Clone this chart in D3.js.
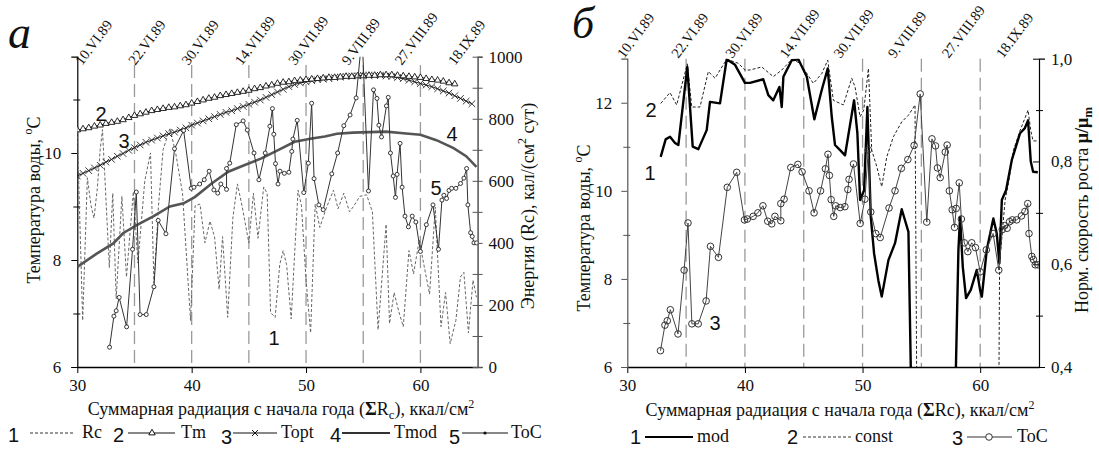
<!DOCTYPE html>
<html><head><meta charset="utf-8">
<script src="https://cdn.jsdelivr.net/npm/d3@7"></script>
<style>body{margin:0;background:#fff}svg{display:block}</style>
</head><body><svg id="c" width="1099" height="450"></svg>
<script>
// ---------------- DATA ----------------
const xTicks = [30, 40, 50, 60];
const gridX = [35, 40, 45, 50, 55, 60];
const dateLabels = ["10.VI.89","22.VI.89","30.VI.89","14.VII.89","30.VII.89","9.VIII.89","27.VIII.89","18.IX.89"];
const tempTicksLeft = [6, 7, 8, 9, 10, 11];
const tempTicksRight = [6, 7, 8, 9, 10, 11, 12];
const energyTicks = [0,100,200,300,400,500,600,700,800,900,1000];
const muTicks = [0.4,0.5,0.6,0.7,0.8,0.9,1.0];

// water temperature ToC (both panels)
const tocX = [32.82,33.2,33.4,33.66,34.31,34.83,35.16,35.49,36.03,36.7,37.07,37.75,38.5,39.3,39.96,40.2,40.7,41.1,41.53,41.94,42.28,42.55,43.05,43.05,43.33,43.9,44.5,44.86,45.45,45.88,46.43,46.84,47.06,47.18,47.33,47.55,47.72,48.1,48.5,48.75,48.85,49.23,49.8,50.2,50.49,50.7,51.12,51.5,52.25,52.76,53.3,53.85,54.38,54.9,55.46,55.9,56.2,56.37,56.6,57.03,57.19,57.38,57.62,57.82,57.96,58.22,58.4,58.65,58.95,59.28,59.6,60.0,60.52,61.1,61.58,61.88,62.05,62.29,62.5,62.73,63.1,63.51,63.8,64.04,64.15,64.39,64.53,64.68,64.91];
const tocT = [6.37,6.95,7.05,7.3,6.75,8.2,9.27,6.98,6.98,7.5,8.74,8.49,10.08,10.42,9.34,9.36,9.42,9.5,9.66,9.31,9.25,9.42,9.32,9.71,9.81,10.53,10.6,10.43,10.0,9.5,10.0,10.5,10.83,10.35,9.8,9.42,9.66,9.62,9.64,10.03,10.26,10.61,9.26,9.81,10.93,9.52,9.03,8.94,9.61,10.0,10.51,10.71,11.03,12.2,9.29,11.18,11.02,10.52,10.3,10.88,11.04,10.0,9.57,9.17,9.6,10.18,9.36,8.82,8.62,8.82,8.71,8.16,8.66,9.03,8.2,9.12,9.21,9.15,9.3,9.34,9.34,9.43,9.53,9.71,9.03,8.51,8.44,8.32,8.32];

// daily radiation Rc, кал/(см2 сут)
const rcX = [30.0,30.47,30.88,31.2,31.46,31.75,32.0,32.2,32.4,32.8,33.1,33.4,33.9,34.3,34.9,35.3,35.9,36.4,36.7,37.1,37.5,38.1,38.6,39.2,39.9,40.3,40.73,41.16,41.6,42.0,42.4,42.7,43.15,43.6,44.0,44.4,45.0,45.4,45.8,46.3,46.6,46.9,47.3,47.7,48.0,48.3,48.7,49.3,49.6,50.0,50.4,50.8,51.2,51.8,52.4,52.8,53.3,53.8,54.2,54.7,55.3,55.8,56.3,57.0,57.3,57.7,58.1,58.5,59.0,59.4,59.9,60.3,60.8,61.3,61.8,62.2,62.6,63.1,63.5,63.8,64.2,64.6,64.9];
const rcE = [760,150,610,520,480,575,700,765,620,320,560,220,550,290,565,335,600,690,270,520,700,770,690,560,150,520,525,400,470,420,250,420,160,480,590,520,400,560,415,580,560,175,160,330,375,330,155,570,520,280,110,525,450,515,570,510,560,500,520,550,555,500,120,460,140,240,180,130,375,300,410,330,235,515,130,240,75,150,290,305,110,280,225];

// Tm (triangles)
const tmX = [30,30.5,31,31.5,32,32.5,33,33.5,34,34.5,35,35.5,36,36.5,37,37.5,38,38.5,39,39.5,40,40.5,41,41.5,42,42.5,43,43.5,44,44.5,45,45.5,46,46.5,47,47.5,48,48.5,49,49.5,50,50.5,51,51.5,52,52.5,53,53.5,54,54.5,55,55.5,56,56.5,57,57.5,58,58.5,59,59.5,60,60.5,61,61.5,62,62.5,63];
const tmT = [10.43,10.45,10.47,10.5,10.52,10.55,10.57,10.59,10.62,10.66,10.7,10.73,10.76,10.79,10.81,10.83,10.85,10.86,10.88,10.9,10.93,10.96,10.99,11.02,11.04,11.07,11.09,11.11,11.13,11.15,11.17,11.2,11.22,11.25,11.27,11.3,11.32,11.33,11.35,11.36,11.37,11.38,11.39,11.4,11.41,11.41,11.42,11.43,11.43,11.44,11.44,11.45,11.45,11.46,11.46,11.46,11.45,11.44,11.43,11.42,11.41,11.39,11.37,11.36,11.34,11.31,11.29];

// Topt (x marks)
const toptX = [30,30.5,31,31.5,32,32.5,33,33.5,34,34.5,35,35.5,36,36.5,37,37.5,38,38.5,39,39.5,40,40.5,41,41.5,42,42.5,43,43.5,44,44.5,45,45.5,46,46.5,47,47.5,48,48.5,49,49.5,50,50.5,51,51.5,52,52.5,53,53.5,54,54.5,55,55.5,56,56.5,57,57.5,58,58.5,59,59.5,60,60.5,61,61.5,62,62.5,63,63.5,64,64.5];
const toptT = [9.57,9.62,9.67,9.72,9.77,9.83,9.88,9.94,9.99,10.05,10.1,10.15,10.2,10.24,10.28,10.32,10.36,10.39,10.43,10.47,10.52,10.56,10.6,10.64,10.68,10.72,10.76,10.79,10.83,10.87,10.91,10.95,10.99,11.04,11.09,11.14,11.19,11.24,11.28,11.31,11.33,11.35,11.37,11.38,11.39,11.41,11.42,11.43,11.44,11.44,11.45,11.45,11.45,11.45,11.44,11.43,11.41,11.39,11.36,11.33,11.3,11.27,11.24,11.2,11.16,11.12,11.07,11.02,10.97,10.92];

// Tmod (thick gray)
const tmodX = [30,31.7,33.15,34.0,35.2,36.6,38.1,39.3,40.3,41.75,43.2,44.7,46.1,47.6,49.0,50.5,51.65,52.7,54.1,57.0,58.5,60.0,61.4,62.9,64.0,64.9];
const tmodT = [7.87,8.12,8.31,8.5,8.65,8.81,9.0,9.06,9.18,9.43,9.65,9.78,9.9,10.06,10.21,10.27,10.31,10.36,10.38,10.4,10.37,10.34,10.24,10.09,9.94,9.74];

// right panel: normalised growth rate mu/mu_m
const modX = [32.84,33.26,33.63,34.06,34.34,35.1,35.56,36.04,36.75,37.03,37.88,38.45,39.16,40.0,40.43,41.56,41.99,42.41,42.93,43.13,43.27,43.98,44.54,45.26,45.9,46.53,47.04,47.38,47.66,48.09,48.51,49.28,49.56,49.79,50.13,50.41,50.7,50.98,51.34,51.63,52.2,52.76,53.33,53.9,54.25,57.75,58.15,58.29,58.52,58.8,59.2,59.71,59.99,60.14,60.56,61.12,61.41,61.63,61.84,62.2,62.69,63.39,63.8,64.07,64.3,64.5,64.9];
const modMu = [0.809,0.843,0.848,0.836,0.832,0.984,0.829,0.824,0.861,0.916,0.913,0.999,0.988,0.953,0.953,0.96,0.929,0.919,0.945,0.906,0.965,0.997,0.999,0.965,0.882,0.939,0.981,0.887,0.832,0.822,0.812,0.919,0.855,0.725,0.744,0.906,0.692,0.621,0.569,0.537,0.608,0.641,0.707,0.663,0.2,0.2,0.628,0.692,0.595,0.534,0.55,0.589,0.55,0.537,0.628,0.689,0.66,0.602,0.725,0.744,0.803,0.855,0.865,0.88,0.8,0.78,0.779];
const constX = [32.84,33.63,34.2,35.1,35.48,36.18,36.89,37.46,38.45,39.44,40.0,40.43,41.43,42.41,43.13,44.0,44.69,45.82,46.53,47.04,47.52,48.37,49.08,49.36,49.79,50.1,50.5,50.78,51.21,51.63,52.06,52.62,53.33,53.9,54.46,54.65,61.55,61.65,62.12,62.4,62.83,63.39,64.07,64.3,64.5,64.95];
const constMu = [0.913,0.934,0.91,0.99,0.906,0.906,0.975,0.962,0.999,0.991,0.978,0.978,0.984,0.965,0.978,0.999,0.991,0.952,0.971,0.997,0.919,0.91,0.962,0.945,0.887,0.9,0.981,0.822,0.79,0.751,0.809,0.848,0.877,0.89,0.91,0.2,0.2,0.602,0.725,0.757,0.822,0.86,0.9,0.86,0.84,0.84];

// ---------------- DRAW ----------------
const svg = d3.select("#c");
const SERIF = "Liberation Serif, Times New Roman, serif";
const SANS = "Liberation Sans, Arial, sans-serif";
const zip = (xs, ys) => xs.map((x, i) => [x, ys[i]]);

function txt(g, x, y, s, opt = {}) {
  return g.append("text").attr("x", x).attr("y", y).text(s)
    .attr("font-family", opt.ff || SERIF).attr("font-size", opt.fs || 18)
    .attr("text-anchor", opt.anchor || "start").attr("fill", opt.fill || "#111")
    .attr("font-style", opt.style || null);
}

// ---- LEFT PANEL ----
const xL = d3.scaleLinear().domain([30, 65]).range([77.3, 477.6]);
const yL = d3.scaleLinear().domain([6, 11.8]).range([367, 56.7]);
const yE = d3.scaleLinear().domain([0, 1000]).range([367, 56.7]);

// ---- RIGHT PANEL ----
const xR = d3.scaleLinear().domain([30, 65]).range([627.3, 1039]);
const yR = d3.scaleLinear().domain([6, 13]).range([367, 58.7]);
const yM = d3.scaleLinear().domain([0.4, 1.0]).range([367, 58.7]);

const defs = svg.append("defs");
defs.append("clipPath").attr("id", "clipL").append("rect")
  .attr("x", xL(30)).attr("y", yL(11.8)).attr("width", xL(65) - xL(30)).attr("height", yL(6) - yL(11.8));
defs.append("clipPath").attr("id", "clipR").append("rect")
  .attr("x", xR(30)).attr("y", yR(13)).attr("width", xR(65) - xR(30)).attr("height", yR(6) - yR(13));

function panelFrame(x, y, clipTop, labelRange, labelY) {
  const g = svg.append("g");
  g.selectAll("line.grid").data(gridX).join("line")
    .attr("x1", d => x(d)).attr("x2", d => x(d))
    .attr("y1", clipTop).attr("y2", y.range()[0])
    .attr("stroke", "#9a9a9a").attr("stroke-width", 1.3).attr("stroke-dasharray", "13,6");
  const dp = d3.scalePoint().domain(dateLabels).range(labelRange);
  g.selectAll("text.date").data(dateLabels).join("text")
    .attr("transform", d => `translate(${dp(d)},${labelY}) rotate(-53)`)
    .attr("font-family", SERIF).attr("font-size", 14.5).attr("fill", "#111")
    .text(d => d);
  return g;
}

panelFrame(xL, yL, 65, [82, 455], 66);
panelFrame(xR, yR, 58.7, [624, 1003], 59);

function bottomAxis(x, yPos) {
  const g = svg.append("g").attr("transform", `translate(0,${yPos})`)
    .call(d3.axisBottom(x).tickValues(xTicks).tickSize(6).tickSizeOuter(0).tickPadding(6));
  g.select(".domain").attr("stroke", "#000").attr("stroke-width", 1.5);
  g.selectAll("text").attr("font-family", SERIF).attr("font-size", 17).attr("fill", "#111");
  return g;
}
bottomAxis(xL, 367);
bottomAxis(xR, 367);

function styleAxis(g, fs) {
  g.select(".domain").attr("stroke", "#000").attr("stroke-width", 1.2);
  g.selectAll("line").attr("stroke", "#000");
  g.selectAll("text").attr("font-family", SERIF).attr("font-size", fs).attr("fill", "#111");
}
{
  const g = svg.append("g").attr("transform", `translate(${xL(30)},0)`)
    .call(d3.axisLeft(yL).tickValues(tempTicksLeft).tickSizeOuter(0).tickSize(6).tickPadding(10)
      .tickFormat(d => d % 2 === 0 ? d : ""));
  styleAxis(g, 17);
  g.selectAll(".tick").filter(d => d % 2 !== 0).select("line").attr("x1", 3).attr("x2", -4);
}
{
  const g = svg.append("g").attr("transform", `translate(${xL(65)},0)`)
    .call(d3.axisRight(yE).tickValues(energyTicks).tickSizeOuter(0).tickSize(5).tickPadding(6)
      .tickFormat(d => d % 200 === 0 ? d : ""));
  styleAxis(g, 17);
  g.select(".domain").attr("stroke", "#555").attr("stroke-width", 1.5);
  g.selectAll(".tick line").attr("x1", -5).attr("stroke", "#555");
}
{
  const g = svg.append("g").attr("transform", `translate(${xR(30)},0)`)
    .call(d3.axisLeft(yR).tickValues(tempTicksRight).tickSizeOuter(0).tickSize(6).tickPadding(9)
      .tickFormat(d => d % 2 === 0 ? d : ""));
  styleAxis(g, 17);
  g.select(".domain").attr("stroke", "#555");
  g.selectAll(".tick line").attr("stroke", "#555");
  g.selectAll(".tick").filter(d => d % 2 !== 0).select("line").attr("x1", 3).attr("x2", -4);
}
{
  const fmt = d3.format(".1f");
  const g = svg.append("g").attr("transform", `translate(${xR(65)},0)`)
    .call(d3.axisRight(yM).tickValues(muTicks).tickSizeOuter(0).tickSize(6).tickPadding(6)
      .tickFormat(d => Math.round(d * 10) % 2 === 0 ? fmt(d).replace(".", ",") : ""));
  styleAxis(g, 17);
  g.selectAll(".tick").filter(d => Math.round(d * 10) % 2 !== 0).select("line").attr("x1", -3).attr("x2", 4);
  g.selectAll(".tick").filter(d => Math.round(d * 10) % 2 === 0).select("line").attr("x1", -6).attr("x2", 0);
}

// ---- left series ----
const gl = svg.append("g").attr("clip-path", "url(#clipL)");
const lineL = d3.line().x(d => xL(d[0])).y(d => yL(d[1]));
const lineE = d3.line().x(d => xL(d[0])).y(d => yE(d[1]));
gl.append("path").datum(zip(rcX, rcE)).attr("d", lineE)
  .attr("fill", "none").attr("stroke", "#666").attr("stroke-width", 1).attr("stroke-dasharray", "3,2");
gl.append("path").datum(zip(tmodX, tmodT)).attr("d", lineL)
  .attr("fill", "none").attr("stroke", "#555").attr("stroke-width", 2.6);
gl.append("path").datum(zip(toptX, toptT)).attr("d", lineL)
  .attr("fill", "none").attr("stroke", "#222").attr("stroke-width", 1);
gl.selectAll("path.topt").data(zip(toptX, toptT)).join("path")
  .attr("transform", d => `translate(${xL(d[0])},${yL(d[1])})`)
  .attr("d", d3.symbol(d3.symbolTimes, 30)).attr("fill", "none").attr("stroke", "#222").attr("stroke-width", 0.9);
gl.append("path").datum(zip(tmX, tmT)).attr("d", lineL)
  .attr("fill", "none").attr("stroke", "#111").attr("stroke-width", 1.1);
gl.selectAll("path.tm").data(zip(tmX, tmT)).join("path")
  .attr("transform", d => `translate(${xL(d[0])},${yL(d[1])})`)
  .attr("d", d3.symbol(d3.symbolTriangle, 18)).attr("fill", "#fff").attr("stroke", "#111").attr("stroke-width", 0.9);
gl.append("path").datum(zip(tocX, tocT)).attr("d", lineL)
  .attr("fill", "none").attr("stroke", "#333").attr("stroke-width", 1);
gl.selectAll("circle.toc").data(zip(tocX, tocT)).join("circle")
  .attr("cx", d => xL(d[0])).attr("cy", d => yL(d[1])).attr("r", 2)
  .attr("fill", "#fff").attr("stroke", "#222").attr("stroke-width", 0.9);

// ---- right series ----
const gr = svg.append("g").attr("clip-path", "url(#clipR)");
const lineR = d3.line().x(d => xR(d[0])).y(d => yR(d[1]));
const lineM = d3.line().x(d => xR(d[0])).y(d => yM(d[1]));
gr.append("path").datum(zip(constX, constMu)).attr("d", lineM)
  .attr("fill", "none").attr("stroke", "#222").attr("stroke-width", 1).attr("stroke-dasharray", "3,2");
gr.append("path").datum(zip(modX, modMu)).attr("d", lineM)
  .attr("fill", "none").attr("stroke", "#000").attr("stroke-width", 2.4).attr("stroke-linejoin", "round");
gr.append("path").datum(zip(tocX, tocT)).attr("d", lineR)
  .attr("fill", "none").attr("stroke", "#444").attr("stroke-width", 1);
gr.selectAll("circle.toc").data(zip(tocX, tocT)).join("circle")
  .attr("cx", d => xR(d[0])).attr("cy", d => yR(d[1])).attr("r", 3.3)
  .attr("fill", "none").attr("stroke", "#333").attr("stroke-width", 1);

// ---- panel letters ----
txt(svg, 8, 48, "а", {fs: 46, style: "italic"});
txt(svg, 572, 38, "б", {fs: 44, style: "italic"});

// ---- series numbers ----
[["2", 101, 121], ["3", 124, 148], ["4", 452, 141], ["5", 436, 195], ["1", 274, 345]]
  .forEach(d => txt(svg, d[1], d[2], d[0], {ff: SANS, fs: 20, anchor: "middle"}));
[["2", 651, 117], ["1", 650, 180], ["3", 715, 330]]
  .forEach(d => txt(svg, d[1], d[2], d[0], {ff: SANS, fs: 20, anchor: "middle"}));

// ---- axis titles ----
{
  const t = svg.append("text").attr("x", 281).attr("y", 415).attr("text-anchor", "middle")
    .attr("font-family", SERIF).attr("font-size", 18).attr("fill", "#111");
  t.append("tspan").text("Суммарная радиация с начала года (");
  t.append("tspan").text("Σ").attr("font-weight", "bold");
  t.append("tspan").text("R");
  t.append("tspan").text("c").attr("font-size", 13).attr("dy", 4);
  t.append("tspan").text("), ккал/см").attr("dy", -4);
  t.append("tspan").text("2").attr("font-size", 12).attr("dy", -7);
}
{
  const t = svg.append("text").attr("x", 840).attr("y", 416).attr("text-anchor", "middle")
    .attr("font-family", SERIF).attr("font-size", 18).attr("fill", "#111");
  t.append("tspan").text("Суммарная радиация с начала года (");
  t.append("tspan").text("Σ").attr("font-weight", "bold");
  t.append("tspan").text("Rc), ккал/см");
  t.append("tspan").text("2").attr("font-size", 12).attr("dy", -7);
}
function yTitle(x, y, build) {
  const t = svg.append("text").attr("transform", `translate(${x},${y}) rotate(-90)`)
    .attr("text-anchor", "middle").attr("font-family", SERIF).attr("font-size", 18).attr("fill", "#111");
  build(t);
}
const tempTitle = t => {
  t.append("tspan").text("Температура воды, ");
  t.append("tspan").text("o").attr("font-size", 12).attr("dy", -8);
  t.append("tspan").text("C").attr("dy", 8);
};
yTitle(40, 200, tempTitle);
yTitle(590, 228, tempTitle);
yTitle(534, 206, t => {
  t.append("tspan").text("Энергия (Rc), кал/(см");
  t.append("tspan").text("2").attr("font-size", 12).attr("dy", -8);
  t.append("tspan").text(" сут)").attr("dy", 8);
});
yTitle(1088, 210, t => {
  t.append("tspan").text("Норм. скорость роста ");
  t.append("tspan").text("μ/μ").attr("font-weight", "bold");
  t.append("tspan").text("m").attr("font-weight", "bold").attr("font-size", 13).attr("dy", 4);
});

// ---- legends ----
function legNum(x, y, s) { txt(svg, x, y, s, {ff: SANS, fs: 20}); }
{
  const y = 433;
  legNum(8, 442, "1");
  svg.append("line").attr("x1", 30).attr("x2", 75).attr("y1", y).attr("y2", y)
    .attr("stroke", "#333").attr("stroke-dasharray", "3,2");
  txt(svg, 82, 438, "Rc");
  legNum(113, 442, "2");
  svg.append("line").attr("x1", 128).attr("x2", 175).attr("y1", y).attr("y2", y).attr("stroke", "#111");
  svg.append("path").attr("transform", `translate(152,${y})`).attr("d", d3.symbol(d3.symbolTriangle, 18))
    .attr("fill", "#fff").attr("stroke", "#111");
  txt(svg, 181, 438, "Tm");
  legNum(221, 444, "3");
  svg.append("line").attr("x1", 233).attr("x2", 277).attr("y1", y).attr("y2", y).attr("stroke", "#111");
  svg.append("path").attr("transform", `translate(255,${y})`).attr("d", d3.symbol(d3.symbolTimes, 25))
    .attr("fill", "none").attr("stroke", "#111");
  txt(svg, 281, 438, "Topt");
  legNum(330, 442, "4");
  svg.append("line").attr("x1", 342).attr("x2", 390).attr("y1", y).attr("y2", y)
    .attr("stroke", "#333").attr("stroke-width", 2.2);
  txt(svg, 394, 438, "Tmod");
  legNum(449, 444, "5");
  svg.append("line").attr("x1", 462).attr("x2", 508).attr("y1", y).attr("y2", y).attr("stroke", "#111");
  svg.append("circle").attr("cx", 485).attr("cy", y).attr("r", 1.6).attr("fill", "#111");
  txt(svg, 511, 438, "ToC");
}
{
  const y = 437;
  legNum(630, 444, "1");
  svg.append("line").attr("x1", 645).attr("x2", 693).attr("y1", y).attr("y2", y)
    .attr("stroke", "#000").attr("stroke-width", 2.2);
  txt(svg, 697, 442, "mod");
  legNum(787, 444, "2");
  svg.append("line").attr("x1", 803).attr("x2", 851).attr("y1", y).attr("y2", y)
    .attr("stroke", "#333").attr("stroke-dasharray", "3,2");
  txt(svg, 855, 442, "const");
  legNum(952, 445, "3");
  svg.append("line").attr("x1", 967).attr("x2", 1012).attr("y1", y).attr("y2", y).attr("stroke", "#333");
  svg.append("circle").attr("cx", 989).attr("cy", y).attr("r", 3.3).attr("fill", "#fff").attr("stroke", "#333");
  txt(svg, 1017, 442, "ToC");
}
</script></body></html>
